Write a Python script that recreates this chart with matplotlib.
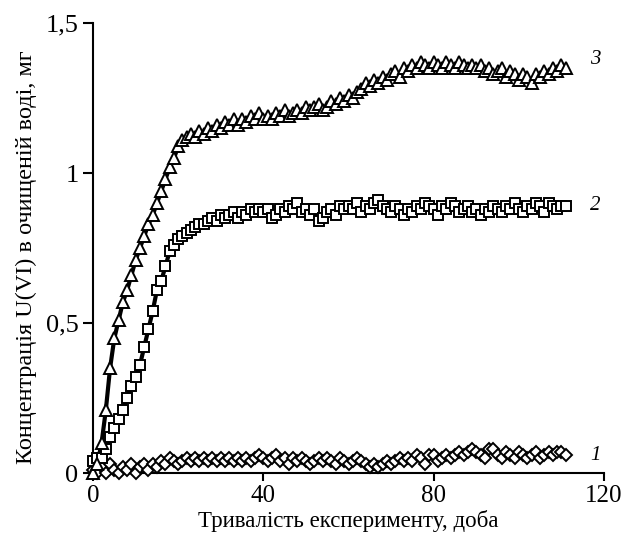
import matplotlib
matplotlib.use("Agg")
import matplotlib.pyplot as plt
from matplotlib.ticker import FuncFormatter

plt.rcParams['font.family'] = ['Liberation Serif', 'DejaVu Serif']

days = list(range(0, 112))

series3 = [0.00, 0.03, 0.10, 0.21, 0.35, 0.45, 0.51, 0.57, 0.61, 0.66,
           0.71, 0.75, 0.79, 0.83, 0.86, 0.90, 0.94, 0.98, 1.02, 1.05,
           1.09, 1.11, 1.12, 1.13, 1.12, 1.14, 1.13, 1.15, 1.14, 1.16,
           1.15, 1.17, 1.16, 1.18, 1.16, 1.18, 1.17, 1.19, 1.18, 1.20,
           1.18, 1.19, 1.18, 1.20, 1.19, 1.21, 1.19, 1.20, 1.21, 1.20,
           1.22, 1.21, 1.22, 1.23, 1.21, 1.22, 1.24, 1.23, 1.25, 1.24,
           1.26, 1.25, 1.27, 1.28, 1.30, 1.29, 1.31, 1.30, 1.32, 1.31,
           1.33, 1.34, 1.32, 1.35, 1.34, 1.36, 1.35, 1.37, 1.36, 1.35,
           1.37, 1.36, 1.35, 1.37, 1.36, 1.35, 1.37, 1.36, 1.35, 1.36,
           1.35, 1.36, 1.34, 1.35, 1.33, 1.34, 1.35, 1.32, 1.34, 1.33,
           1.31, 1.33, 1.32, 1.30, 1.33, 1.32, 1.34, 1.33, 1.35, 1.34,
           1.36, 1.35]

series2 = [0.04, 0.05, 0.05, 0.08, 0.12, 0.15, 0.18, 0.21, 0.25, 0.29,
           0.32, 0.36, 0.42, 0.48, 0.54, 0.61, 0.64, 0.69, 0.74, 0.76,
           0.78, 0.79, 0.80, 0.81, 0.82, 0.83, 0.83, 0.84, 0.85, 0.84,
           0.86, 0.85, 0.86, 0.87, 0.85, 0.87, 0.86, 0.88, 0.87, 0.88,
           0.87, 0.88, 0.85, 0.86, 0.88, 0.87, 0.89, 0.88, 0.90, 0.87,
           0.88, 0.86, 0.88, 0.84, 0.85, 0.87, 0.88, 0.86, 0.89, 0.88,
           0.89, 0.88, 0.90, 0.87, 0.89, 0.88, 0.90, 0.91, 0.89, 0.88,
           0.87, 0.89, 0.88, 0.86, 0.88, 0.87, 0.89, 0.88, 0.90, 0.89,
           0.88, 0.86, 0.89, 0.88, 0.90, 0.89, 0.87, 0.88, 0.89, 0.87,
           0.88, 0.86, 0.88, 0.87, 0.89, 0.88, 0.87, 0.89, 0.88, 0.90,
           0.88, 0.87, 0.89, 0.88, 0.90, 0.89, 0.87, 0.90, 0.89, 0.88,
           0.89, 0.89]

series1 = [0.01, 0.00, 0.02, 0.00, 0.03, 0.01, 0.00, 0.02, 0.01, 0.03,
           0.00, 0.02, 0.03, 0.01, 0.03, 0.02, 0.04, 0.03, 0.05, 0.04,
           0.03, 0.04, 0.05, 0.04, 0.05, 0.04, 0.05, 0.04, 0.05, 0.04,
           0.05, 0.04, 0.05, 0.04, 0.05, 0.04, 0.05, 0.04, 0.05, 0.06,
           0.05, 0.04, 0.05, 0.06, 0.04, 0.05, 0.03, 0.05, 0.04, 0.05,
           0.04, 0.03, 0.04, 0.05, 0.04, 0.05, 0.04, 0.03, 0.05, 0.04,
           0.03, 0.04, 0.05, 0.04, 0.03, 0.02, 0.03, 0.02, 0.03, 0.04,
           0.03, 0.04, 0.05, 0.04, 0.05, 0.04, 0.06, 0.05, 0.03, 0.06,
           0.06, 0.04, 0.05, 0.06, 0.05, 0.06, 0.07, 0.06, 0.07, 0.08,
           0.07, 0.06, 0.05, 0.08, 0.08, 0.06, 0.05, 0.07, 0.06, 0.05,
           0.07, 0.06, 0.05, 0.06, 0.07, 0.05, 0.06, 0.07, 0.06, 0.07,
           0.07, 0.06]

series_labels = ["1", "2", "3"]
label_values = [0.061, 0.894, 1.378]
x_ticks = [0, 40, 80, 120]
y_ticks = [0, 0.5, 1, 1.5]
xlabel = "Тривалість експерименту, доба"
ylabel = "Концентрація U(VI) в очищеній воді, мг"

fig = plt.figure(figsize=(6.26, 5.41), dpi=100)
ax = fig.add_axes([0.1486, 0.125, 0.8163, 0.832])

# lines
ax.plot(days, series3, color='black', lw=3, zorder=2, clip_on=False)
ax.plot(days, series2, color='black', lw=3, zorder=2, clip_on=False)
# markers
ax.plot(days, series1, linestyle='none', marker='D', ms=6.5, mfc='white',
        mec='black', mew=1.4, zorder=3, clip_on=False)
ax.plot(days, series2, linestyle='none', marker='s', ms=6.8, mfc='white',
        mec='black', mew=1.4, zorder=3, clip_on=False)
ax.plot(days, series3, linestyle='none', marker='^', ms=8.3, mfc='white',
        mec='black', mew=1.4, zorder=4, clip_on=False)

ax.set_xlim(0, 120)
ax.set_ylim(0, 1.5)
ax.set_xticks(x_ticks)
ax.set_yticks(y_ticks)
ax.yaxis.set_major_formatter(FuncFormatter(lambda v, p: ('%g' % v).replace('.', ',')))
ax.tick_params(axis='y', direction='out', length=7.5, width=1.5, labelsize=19, pad=3)
ax.tick_params(axis='x', direction='out', length=5.5, width=1.5, labelsize=18, pad=3)
for s in ['top', 'right']:
    ax.spines[s].set_visible(False)
for s in ['left', 'bottom']:
    ax.spines[s].set_linewidth(1.5)

ax.set_xlabel(xlabel, fontsize=16.5, labelpad=2)
ax.set_ylabel(ylabel, fontsize=17.5, labelpad=6)
ax.yaxis.label.set_y(0.48)

for lab, yv in zip(series_labels, label_values):
    ax.text(116.7, yv, lab, fontsize=15, style='italic', va='center', ha='left')

fig.savefig("out.png", dpi=100)
